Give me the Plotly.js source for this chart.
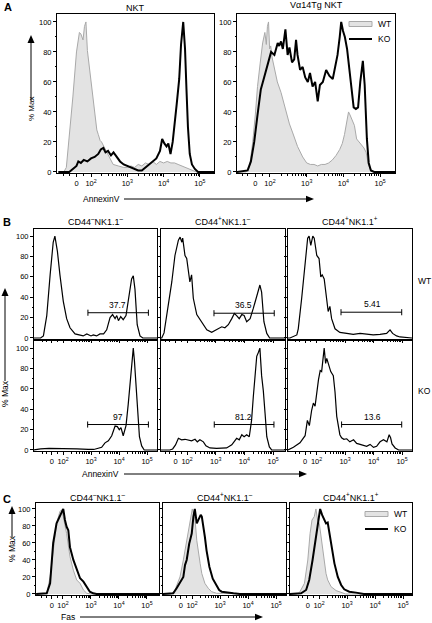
<!DOCTYPE html>
<html>
<head>
<meta charset="utf-8">
<script src="https://cdn.plot.ly/plotly-3.0.1.min.js"></script>
<style>html,body{margin:0;padding:0;background:#fff;}#chart{width:432px;height:623px;}</style>
</head>
<body>
<div id="chart"></div>
<script>
// ---------- DATA (x in display units of the biexponential axis: 0 -> 1.6, 10^k -> k) ----------
const tickVals = [1.6, 2, 3, 4, 5];
const tickText = ['0', '10<sup>2</sup>', '10<sup>3</sup>', '10<sup>4</sup>', '10<sup>5</sup>'];
const yTickVals = [0, 20, 40, 60, 80, 100];
const seriesNames = ['WT', 'KO'];
const subsetNames = ['CD44<sup>\u2013</sup>NK1.1<sup>\u2013</sup>', 'CD44<sup>+</sup>NK1.1<sup>\u2013</sup>', 'CD44<sup>+</sup>NK1.1<sup>+</sup>'];

// Panel A: NKT
const nktWT_x = [1.10,1.25,1.32,1.40,1.50,1.60,1.68,1.72,1.78,1.82,1.86,1.90,1.95,2.00,2.06,2.11,2.16,2.20,2.25,2.29,2.35,2.43,2.50,2.61,2.75,2.90,3.00,3.10,3.20,3.30,3.40,3.50,3.60,3.70,3.80,3.90,4.00,4.10,4.20,4.30,4.40,4.50,4.60,4.70,4.80,4.90,5.39];
const nktWT_y = [0,0,3,22,50,80,93,92,88,97,100,81,70,60,48,38,28,25,21,20,17,14,10,5,4,3,3,4,3,5,4,6,5,7,5,7,6,7,6,6,5,4,3,2,1,0,0];
const nktKO_x = [1.10,1.40,1.50,1.60,1.65,1.72,1.80,1.90,2.00,2.10,2.20,2.27,2.34,2.40,2.47,2.55,2.62,2.70,2.80,2.90,3.00,3.10,3.20,3.30,3.40,3.50,3.60,3.70,3.80,3.90,3.96,4.02,4.08,4.13,4.19,4.25,4.30,4.36,4.43,4.48,4.54,4.59,4.63,4.67,4.72,4.78,4.86,4.95,5.39];
const nktKO_y = [0,0,2,4,7,6,8,7,9,10,12,15,16,13,14,11,13,10,7,5,4,3,2,1,1,3,5,7,9,14,22,19,17,19,12,20,30,45,62,85,100,82,55,30,12,5,2,0,0];

// Panel A: Va14Tg NKT
const tgWT_x = [1.10,1.35,1.44,1.53,1.60,1.66,1.73,1.80,1.86,1.90,1.93,1.96,1.99,2.02,2.06,2.12,2.20,2.30,2.37,2.44,2.53,2.62,2.75,2.89,3.00,3.10,3.20,3.30,3.40,3.50,3.60,3.70,3.80,3.90,3.97,4.03,4.09,4.14,4.18,4.24,4.30,4.36,4.42,4.50,4.56,4.62,4.68,4.75,4.85,5.41];
const tgWT_y = [0,0,3,20,38,57,72,86,93,85,97,100,82,84,76,70,60,53,46,41,32,26,17,10,6,5,5,4,5,5,6,8,11,15,19,25,33,40,38,35,31,22,20,18,16,13,5,1,0,0];
const tgKO_x = [1.10,1.39,1.48,1.57,1.66,1.75,1.84,1.94,2.03,2.12,2.21,2.25,2.30,2.35,2.42,2.48,2.53,2.60,2.66,2.71,2.75,2.82,2.89,2.96,3.03,3.09,3.16,3.23,3.30,3.36,3.44,3.53,3.62,3.71,3.78,3.84,3.90,3.94,3.99,4.04,4.10,4.16,4.23,4.28,4.34,4.40,4.46,4.53,4.58,4.64,4.69,4.75,4.84,5.41];
const tgKO_y = [0,1,7,20,38,55,63,72,80,78,86,84,87,82,95,78,83,73,75,88,78,68,70,63,60,66,57,60,47,58,60,68,64,62,70,78,90,100,94,90,82,68,52,43,42,43,60,74,58,22,6,1,0,0];

// Panel B: AnnexinV, WT row
const bWT1_x = [0.96,1.20,1.30,1.42,1.54,1.65,1.71,1.80,1.89,2.01,2.13,2.25,2.43,2.61,2.72,2.85,3.00,3.08,3.20,3.32,3.45,3.56,3.68,3.77,3.86,3.92,3.98,4.06,4.15,4.25,4.37,4.45,4.51,4.57,4.65,4.75,4.85,5.36];
const bWT1_y = [0,0,2,22,62,94,100,85,62,36,19,10,4,3,2,4,2,3,2,4,4,8,20,23,19,22,17,21,18,22,42,58,61,48,13,2,0,0];
const bWT2_x = [0.96,1.12,1.20,1.29,1.47,1.58,1.70,1.76,1.82,1.85,1.93,1.99,2.10,2.16,2.22,2.34,2.51,2.69,2.86,3.03,3.21,3.32,3.44,3.56,3.65,3.73,3.82,3.91,3.99,4.08,4.20,4.31,4.43,4.54,4.60,4.68,4.78,4.88,5.41];
const bWT2_y = [0,0,5,22,55,81,96,99,94,98,81,78,55,62,39,23,16,8,5.5,8,11,10,13,19,24,22,19,23,22,16,19,29,42,52,45,16,4.5,0,0];
const bWT3_x = [1.00,1.07,1.31,1.36,1.48,1.54,1.62,1.69,1.74,1.80,1.87,1.92,2.01,2.09,2.15,2.20,2.27,2.36,2.41,2.47,2.53,2.65,2.82,3.06,3.29,3.53,3.76,3.99,4.23,4.46,4.58,4.67,4.81,4.93,5.35];
const bWT3_y = [0,0,3,9,39,55,78,98,100,91,100,98,81,78,60,62,58,36,26,31,19,9,5.5,4.5,3.6,4.5,3.5,3,3.6,4.5,8,4.5,2,1,0];
// Panel B: AnnexinV, KO row
const bKO1_x = [0.96,1.20,1.50,2.00,2.50,2.90,3.10,3.38,3.50,3.62,3.74,3.86,3.94,4.01,4.07,4.15,4.25,4.33,4.42,4.47,4.51,4.55,4.60,4.65,4.73,4.81,4.90,5.36];
const bKO1_y = [0,1,1.5,1.5,1,0.5,0.5,2.6,7,9,14,23.5,23,20,22,14,24,45,72,92,100,88,66,39,13,4,0,0];
const bKO2_x = [0.96,1.40,1.50,1.60,1.70,1.81,1.93,2.05,2.16,2.28,2.36,2.45,2.57,2.66,2.80,3.03,3.20,3.38,3.56,3.65,3.73,3.82,3.91,3.99,4.08,4.17,4.25,4.31,4.37,4.43,4.49,4.54,4.60,4.66,4.72,4.78,4.87,4.95,5.41];
const bKO2_y = [0,0,1,5,11.5,10,10.5,10,9,10.5,8,10,8,4,2,1.5,1.5,2,5,8,11.5,10,15,13,15,13,29,52,75,92,96,100,73,58,36,13,3,0,0];
const bKO3_x = [1.00,1.19,1.42,1.60,1.68,1.75,1.83,1.89,1.95,2.01,2.07,2.13,2.18,2.27,2.32,2.36,2.44,2.50,2.59,2.65,2.71,2.82,2.88,2.96,3.06,3.17,3.30,3.41,3.53,3.64,3.76,3.88,4.00,4.11,4.23,4.35,4.47,4.55,4.60,4.65,4.76,4.88,5.35];
const bKO3_y = [0,2.6,7,14,29,24,39,46,43,59,69,78,77,100,85,90,83,77,73,57,33,15,12,10.5,11,8,10,6.5,5.5,4.5,3.6,5.5,2.6,3.6,8,10,8,15,12,6,2,0,0];

// Gates (AnnexinV+ %), order: WT col1..3, KO col1..3
const gateLo = [2.89, 2.94, 2.86, 2.88, 2.95, 2.88];
const gateHi = [5.05, 5.04, 4.99, 5.05, 5.03, 4.99];
const gateY = [24.8, 24.3, 25.3, 25, 25, 25];
const gateLabelX = [3.93, 3.96, 3.96, 3.95, 3.96, 3.97];
const gatePct = ['37.7', '36.5', '5.41', '97', '81.2', '13.6'];

// Panel C: Fas
const cWT1_x = [1.04,1.42,1.54,1.65,1.77,1.89,1.95,2.01,2.13,2.25,2.37,2.49,2.61,2.73,2.85,3.00,5.43];
const cWT1_y = [0,0.8,20,52,83,97,99,91,71,44,28,16.5,12.5,4.7,0.8,0,0];
const cKO1_x = [1.04,1.42,1.54,1.65,1.77,1.89,2.01,2.07,2.13,2.19,2.25,2.37,2.49,2.61,2.73,2.85,2.96,3.08,3.20,5.43];
const cKO1_y = [0,0.8,12.5,60,83,91,100,87,79,75,55,40,28,18.5,14.5,8.6,2.7,0.8,0,0];
const cWT2_x = [0.96,1.25,1.39,1.57,1.69,1.81,1.93,2.01,2.05,2.11,2.17,2.23,2.29,2.35,2.46,2.58,2.70,2.88,5.36];
const cWT2_y = [0,0,4.7,20,40,63,87,100,95,87,63,47,36,24,12.5,6.7,2.7,0.8,0];
const cKO2_x = [0.96,1.33,1.45,1.57,1.69,1.75,1.81,1.90,1.99,2.05,2.10,2.17,2.23,2.31,2.35,2.40,2.46,2.52,2.62,2.74,2.86,2.97,3.06,3.24,3.48,3.71,5.36];
const cKO2_y = [0,0.8,6.7,14,20,34,40,59,71,91,100,83,87,93,91,81,67,51,32,18,10.6,4.7,2.7,1.6,0.8,0,0];
const cWT3_x = [0.96,1.20,1.30,1.48,1.60,1.68,1.75,1.83,1.89,1.95,2.01,2.07,2.13,2.19,2.25,2.31,2.43,2.61,2.79,2.95,5.32];
const cWT3_y = [0,0,1.6,12.5,40,71,87,91,100,87,83,67,51,36,24,16.5,8.6,4,1.6,0,0];
const cKO3_x = [0.96,1.36,1.54,1.65,1.77,1.87,1.95,2.04,2.11,2.19,2.25,2.31,2.37,2.45,2.55,2.67,2.79,2.90,3.08,3.32,3.44,3.60,5.32];
const cKO3_y = [0,0.8,4.7,16.5,40,63,83,100,93,87,83,84,71,55,36,20,10.6,5.5,2.7,1.6,0.8,0,0];

// ---------- LAYOUT ----------
const W = 432, H = 623;
const FONT = 'Liberation Sans, Arial, Helvetica, sans-serif';
const GREY_FILL = '#e3e3e3', GREY_LINE = '#a9a9a9';

const panels = [
  {id: 1,  x: [57, 214],  y: [14, 173],  xr: [1.063, 5.388], yr: [-0.7, 105.3], ylab: true,  xlab: true},
  {id: 2,  x: [237, 395], y: [14, 173],  xr: [1.101, 5.406], yr: [-0.7, 105.3], ylab: true,  xlab: true},
  {id: 3,  x: [34, 157],  y: [229, 339], xr: [0.964, 5.357], yr: [-1, 107],     ylab: true,  xlab: false},
  {id: 4,  x: [161, 285], y: [229, 339], xr: [1.094, 5.415], yr: [-1, 107],     ylab: false, xlab: false},
  {id: 5,  x: [288, 412], y: [229, 339], xr: [1.0, 5.351],   yr: [-1, 107],     ylab: false, xlab: false},
  {id: 6,  x: [34, 157],  y: [341, 451], xr: [0.964, 5.357], yr: [-1, 107],     ylab: true,  xlab: true},
  {id: 7,  x: [161, 285], y: [341, 451], xr: [1.094, 5.415], yr: [-1, 107],     ylab: false, xlab: true},
  {id: 8,  x: [288, 412], y: [341, 451], xr: [1.0, 5.351],   yr: [-1, 107],     ylab: false, xlab: true},
  {id: 9,  x: [36, 159],  y: [503, 595], xr: [1.036, 5.43],  yr: [-1.2, 107],   ylab: true,  xlab: true},
  {id: 10, x: [163, 286], y: [503, 595], xr: [0.964, 5.357], yr: [-1.2, 107],   ylab: false, xlab: true},
  {id: 11, x: [290, 412], y: [503, 595], xr: [0.964, 5.32],  yr: [-1.2, 107],   ylab: false, xlab: true}
];

const minorX = [];
[2, 3, 4].forEach(d => { for (let k = 2; k <= 9; k++) minorX.push(d + Math.log10(k)); });
[1.25, 1.4, 1.8].forEach(v => minorX.push(v));

const layout = {
  width: W, height: H, autosize: false,
  margin: {l: 0, r: 0, t: 0, b: 0},
  paper_bgcolor: '#fff', plot_bgcolor: 'rgba(0,0,0,0)',
  font: {family: FONT, color: '#000', size: 8},
  showlegend: false,
  shapes: [], annotations: []
};

panels.forEach(p => {
  const xk = 'xaxis' + (p.id === 1 ? '' : p.id), yk = 'yaxis' + (p.id === 1 ? '' : p.id);
  layout[xk] = {
    domain: [p.x[0] / W, p.x[1] / W], range: p.xr, anchor: 'y' + p.id,
    showline: true, mirror: true, linecolor: '#000', linewidth: 1,
    showgrid: false, zeroline: false, fixedrange: true,
    tickmode: 'array', tickvals: tickVals, ticktext: tickText, showticklabels: p.xlab,
    ticks: 'outside', ticklen: 3, tickwidth: 1, tickcolor: '#000',
    tickfont: {size: 7.5, family: FONT, color: '#000'},
    minor: {tickmode: 'array', tickvals: minorX, ticks: 'outside', ticklen: 1.5, tickwidth: 1, tickcolor: '#000'}
  };
  layout[yk] = {
    domain: [1 - p.y[1] / H, 1 - p.y[0] / H], range: p.yr, anchor: 'x' + p.id,
    showline: true, mirror: true, linecolor: '#000', linewidth: 1,
    showgrid: false, zeroline: false, fixedrange: true,
    tickmode: 'array', tickvals: yTickVals, showticklabels: p.ylab,
    ticks: 'outside', ticklen: 3, tickwidth: 1, tickcolor: '#000',
    tickfont: {size: 7.5, family: FONT, color: '#000'},
    minor: {tickmode: 'array', tickvals: [10, 30, 50, 70, 90], ticks: 'outside', ticklen: 1.5, tickwidth: 1, tickcolor: '#000'}
  };
});

// ---------- TRACES ----------
const traces = [];
function wt(id, xs, ys) {
  traces.push({x: xs, y: ys, xaxis: 'x' + id, yaxis: 'y' + id, mode: 'lines', name: seriesNames[0],
    line: {color: GREY_LINE, width: 1}, fill: 'tozeroy', fillcolor: GREY_FILL, hoverinfo: 'skip'});
}
function ko(id, xs, ys, w) {
  traces.push({x: xs, y: ys, xaxis: 'x' + id, yaxis: 'y' + id, mode: 'lines', name: seriesNames[1],
    line: {color: '#000', width: w}, hoverinfo: 'skip'});
}
wt(1, nktWT_x, nktWT_y); ko(1, nktKO_x, nktKO_y, 2);
wt(2, tgWT_x, tgWT_y); ko(2, tgKO_x, tgKO_y, 2);
ko(3, bWT1_x, bWT1_y, 1.2); ko(4, bWT2_x, bWT2_y, 1.2); ko(5, bWT3_x, bWT3_y, 1.2);
ko(6, bKO1_x, bKO1_y, 1.2); ko(7, bKO2_x, bKO2_y, 1.2); ko(8, bKO3_x, bKO3_y, 1.2);
wt(9, cWT1_x, cWT1_y); ko(9, cKO1_x, cKO1_y, 2);
wt(10, cWT2_x, cWT2_y); ko(10, cKO2_x, cKO2_y, 2);
wt(11, cWT3_x, cWT3_y); ko(11, cKO3_x, cKO3_y, 2);

// ---------- GATES ----------
const gatePanels = [3, 4, 5, 6, 7, 8];
gatePanels.forEach((id, i) => {
  const xr = 'x' + id, yr = 'y' + id, ln = {color: '#000', width: 1};
  layout.shapes.push({type: 'line', xref: xr, yref: yr, x0: gateLo[i], x1: gateHi[i], y0: gateY[i], y1: gateY[i], line: ln});
  layout.shapes.push({type: 'line', xref: xr, yref: yr, x0: gateLo[i], x1: gateLo[i], y0: gateY[i] - 3, y1: gateY[i] + 3, line: ln});
  layout.shapes.push({type: 'line', xref: xr, yref: yr, x0: gateHi[i], x1: gateHi[i], y0: gateY[i] - 3, y1: gateY[i] + 3, line: ln});
  layout.annotations.push({xref: xr, yref: yr, x: gateLabelX[i], y: gateY[i], yanchor: 'bottom', yshift: 1,
    text: gatePct[i], showarrow: false, font: {size: 8.5, family: FONT, color: '#000'}});
});

// ---------- TEXT, ARROWS, LEGENDS ----------
const px = (x) => x / W, py = (y) => 1 - y / H;
function txt(s, x, y, o) {
  o = o || {};
  layout.annotations.push(Object.assign({xref: 'paper', yref: 'paper', x: px(x), y: py(y), text: s,
    showarrow: false, xanchor: 'center', yanchor: 'middle', font: {size: 8.5, family: FONT, color: '#000'}}, o));
}
function pline(x0, y0, x1, y1, w, c) {
  layout.shapes.push({type: 'line', xref: 'paper', yref: 'paper', x0: px(x0), y0: py(y0), x1: px(x1), y1: py(y1),
    line: {color: c || '#000', width: w || 1}});
}
function arrowUp(x, tip, tail) {
  pline(x, tail, x, tip + 6);
  layout.shapes.push({type: 'path', xref: 'paper', yref: 'paper', fillcolor: '#000', line: {width: 0},
    path: `M${px(x)},${py(tip)} L${px(x - 3.5)},${py(tip + 8)} L${px(x + 3.5)},${py(tip + 8)} Z`});
}
function arrowRight(y, tail, tip) {
  pline(tail, y, tip - 6, y);
  layout.shapes.push({type: 'path', xref: 'paper', yref: 'paper', fillcolor: '#000', line: {width: 0},
    path: `M${px(tip)},${py(y)} L${px(tip - 8)},${py(y - 3.2)} L${px(tip - 8)},${py(y + 3.2)} Z`});
}
function legendBox(x0, y0) {
  layout.shapes.push({type: 'rect', xref: 'paper', yref: 'paper', x0: px(x0), x1: px(x0 + 23), y0: py(y0 - 2.5), y1: py(y0 + 2.5),
    fillcolor: GREY_FILL, line: {color: GREY_LINE, width: 1}});
  txt(seriesNames[0], x0 + 27, y0, {xanchor: 'left'});
  pline(x0, y0 + 15, x0 + 23, y0 + 15, 2);
  txt(seriesNames[1], x0 + 27, y0 + 15, {xanchor: 'left'});
}

const bold = {size: 11, family: FONT, color: '#000', weight: 'bold'};
txt('<b>A</b>', 2, 7, {xanchor: 'left', font: bold});
txt('<b>B</b>', 1, 222, {xanchor: 'left', font: bold});
txt('<b>C</b>', 1, 499, {xanchor: 'left', font: bold});

const tf = {size: 9, family: FONT, color: '#000'};
txt('NKT', 135.5, 8, {font: tf});
txt('V\u03b114Tg NKT', 316, 5, {font: tf});
[95.5, 223, 350].forEach((cx, i) => txt(subsetNames[i], cx, 221, {font: tf}));
[97.5, 224.5, 351].forEach((cx, i) => txt(subsetNames[i], cx, 497, {font: tf}));
txt(seriesNames[0], 416, 281, {xanchor: 'left'});
txt(seriesNames[1], 416, 391, {xanchor: 'left'});

// y-axis titles with upward arrows
txt('% Max', 31, 109, {textangle: -90, font: {size: 8, family: FONT, color: '#000'}});
arrowUp(31, 35, 101);
txt('% Max', 5, 394, {textangle: -90});
arrowUp(5, 288, 381);
txt('% Max', 12, 549, {textangle: -90});
arrowUp(12, 506, 537);

// x-axis titles with rightward arrows
txt('AnnexinV', 122, 199, {xanchor: 'right'});
arrowRight(199, 124, 314);
txt('AnnexinV', 121, 474, {xanchor: 'right'});
arrowRight(474, 124, 307);
txt('Fas', 77, 617, {xanchor: 'right'});
arrowRight(617, 80, 263);

// legends (drawn as swatches + labels)
legendBox(349, 24);
legendBox(365, 514);

Plotly.newPlot('chart', traces, layout, {displayModeBar: false, staticPlot: true});
</script>
</body>
</html>
